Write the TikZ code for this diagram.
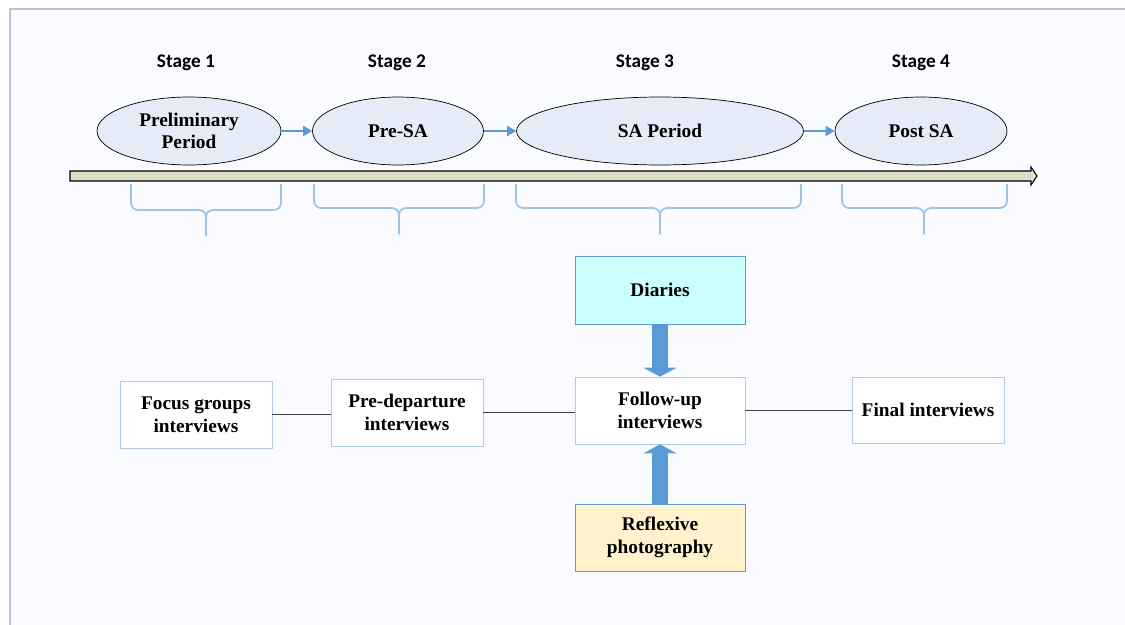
\documentclass[tikz,border=0pt]{standalone}
\usepackage{fontspec}
\setmainfont{Liberation Serif}
\newfontfamily\stagefont{Carlito}
\usetikzlibrary{shapes.geometric,arrows.meta}

\definecolor{ellfill}{HTML}{E6ECF7}
\definecolor{arrowblue}{HTML}{5B9BD5}
\definecolor{bracecol}{HTML}{9DC3E6}
\definecolor{barfill}{HTML}{DDDFC8}
\definecolor{boxline}{HTML}{B4C7E7}
\definecolor{diaryfill}{HTML}{CCFFFF}
\definecolor{photofill}{HTML}{FFF2CC}
\definecolor{framecol}{HTML}{B8C4D4}
\definecolor{bgfill}{HTML}{FAFBFE}

\tikzset{
    stagelabel/.style={font=\stagefont\bfseries\fontsize{11}{13}\selectfont},
    period/.style={ellipse, draw=black, fill=ellfill, minimum height=1.36cm, inner sep=0pt, align=center,
        font=\bfseries\fontsize{11}{12.5}\selectfont},
    method/.style={rectangle, draw=boxline, fill=white, minimum width=3.04cm, minimum height=1.34cm, align=center,
        font=\bfseries\fontsize{11}{13}\selectfont},
    stagearrow/.style={draw=arrowblue, line width=1.1pt, -{Triangle[length=0.18cm,width=0.2cm]}},
    blockarrow/.style={draw=arrowblue, line width=0.32cm, -{Triangle[length=0.18cm,width=0.66cm]}},
    link/.style={draw=black!75, line width=0.6pt},
    stagebrace/.style={draw=bracecol, line width=1pt, rounded corners=4pt}
}

\begin{document}
\begin{tikzpicture}[x=0.02cm,y=-0.02cm]
    \useasboundingbox (0,0) rectangle (1125,625);
    % background frame
    \fill[bgfill] (10,9) rectangle (1125,625);
    \draw[framecol, line width=0.6pt] (10,625) -- (10,9) -- (1125,9);

    % stages
    \node[stagelabel] (s1) at (186,63) {Stage 1};
    \node[stagelabel] (s2) at (397,63) {Stage 2};
    \node[stagelabel] (s3) at (645,63) {Stage 3};
    \node[stagelabel] (s4) at (921,63) {Stage 4};

    \node[period, minimum width=3.68cm] (prelim) at (189,131) {Preliminary\\Period};
    \node[period, minimum width=3.42cm] (presa) at (398,131) {Pre-SA};
    \node[period, minimum width=5.74cm] (saperiod) at (660,131) {SA Period};
    \node[period, minimum width=3.44cm] (postsa) at (921,131) {Post SA};

    \draw[stagearrow] (prelim) -- (presa);
    \draw[stagearrow] (presa) -- (saperiod);
    \draw[stagearrow] (saperiod) -- (postsa);

    % time line
    \draw[fill=barfill, line width=0.6pt] (70,171) -- (1031,171) -- (1031,167) -- (1037,176)
        -- (1031,185) -- (1031,181) -- (70,181) -- cycle;

    % braces under the stages
    \foreach \xa/\xm/\xb/\yh in {131/206/281/210, 314/399/484/208, 516/660/801/208, 842/924/1007/208}{
        \draw[stagebrace] (\xa,184) -- (\xa,\yh) -- (\xm,\yh) -- (\xm,\yh+26);
        \draw[stagebrace] (\xb,184) -- (\xb,\yh) -- (\xm,\yh) -- (\xm,\yh+26);
    }

    % data collection
    \node[method, draw=arrowblue, fill=diaryfill, minimum width=3.4cm, minimum height=1.36cm] (diaries) at (660,290) {Diaries};
    \node[method, minimum width=3.4cm, minimum height=1.34cm] (followup) at (660,410.5) {Follow-up\\interviews};
    \node[method, draw=arrowblue, fill=photofill, minimum width=3.4cm, minimum height=1.34cm] (photo) at (660,537.5) {Reflexive\\photography};
    \node[method] (focus) at (196,414.5) {Focus groups\\interviews};
    \node[method] (predep) at (407,412.5) {Pre-departure\\interviews};
    \node[method, minimum height=1.32cm] (final) at (928,410) {Final interviews};

    \draw[link] (focus.east) -- (focus.east -| predep.west);
    \draw[link] (predep.east) -- (predep.east -| followup.west);
    \draw[link] (followup.east) -- (followup.east -| final.west);

    \draw[blockarrow] (diaries.south) -- (followup.north);
    \draw[blockarrow] (photo.north) -- (followup.south);
\end{tikzpicture}
\end{document}
